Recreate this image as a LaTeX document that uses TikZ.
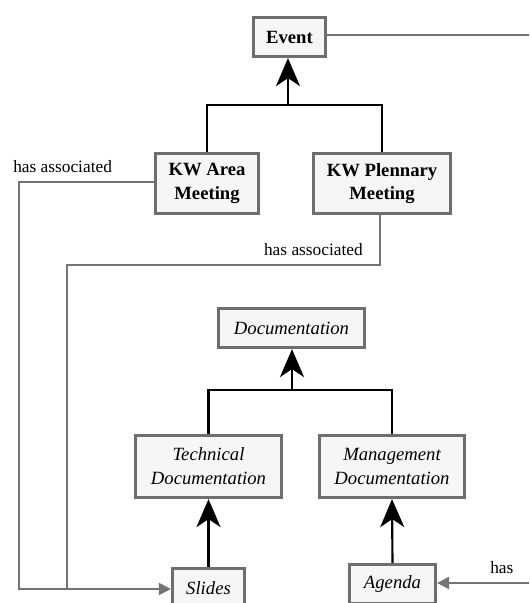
\documentclass[tikz,border=0pt]{standalone}
\usepackage{fontspec}
\setmainfont{Liberation Serif}
\usetikzlibrary{arrows.meta}
\definecolor{boxline}{HTML}{6E6E6E}
\definecolor{boxfill}{HTML}{F6F6F6}
\definecolor{grayline}{HTML}{747474}
\tikzset{
  cls/.style={draw=boxline, fill=boxfill, line width=2.4pt, inner sep=0pt,
    align=center, font=\fontsize{14pt}{17.5pt}\selectfont},
  bcls/.style={cls, font=\fontsize{14pt}{17.5pt}\selectfont\bfseries},
  icls/.style={cls, font=\fontsize{14pt}{18pt}\selectfont\itshape},
  inh/.style={draw=black, line width=1.6pt},
  inharrow/.style={inh, -{Stealth[length=21pt,width=18pt,inset=6pt]}},
  assoc/.style={draw=grayline, line width=1.6pt},
  assocarrow/.style={assoc, -{Triangle[length=9pt,width=9pt]}},
  lbl/.style={inner sep=0pt, font=\fontsize{13pt}{15pt}\selectfont}
}
\begin{document}
\begin{tikzpicture}[x=0.75pt,y=-0.75pt]
\useasboundingbox (0,0) rectangle (529,603);
% classes
\node[bcls, minimum width=72*0.75pt, minimum height=39*0.75pt] (event) at (289.5,37) {Event};
\node[bcls, minimum width=103*0.75pt, minimum height=60*0.75pt] (kwa) at (207,183.5) {KW Area\\Meeting};
\node[bcls, minimum width=137*0.75pt, minimum height=60*0.75pt] (kwp) at (382,183.5) {KW Plennary\\Meeting};
\node[icls, minimum width=146*0.75pt, minimum height=39*0.75pt] (doc) at (291.5,328) {Documentation};
\node[icls, minimum width=146*0.75pt, minimum height=62*0.75pt] (tech) at (208.5,466.5) {Technical\\Documentation};
\node[icls, minimum width=145*0.75pt, minimum height=62*0.75pt] (mgmt) at (392,466.5) {Management\\Documentation};
\node[icls, minimum width=72*0.75pt, minimum height=39*0.75pt] (slides) at (208.5,588) {Slides};
\node[icls, minimum width=86*0.75pt, minimum height=39*0.75pt] (agenda) at (392.5,584) {Agenda};
% inheritance: meetings -> event
\coordinate (bar1) at (288,105);
\draw[inh] (kwa.north) |- (bar1) -| (kwp.north);
\draw[inharrow] (bar1) -- (bar1 |- event.south);
% inheritance: documentation
\coordinate (bar2) at (292,390);
\draw[inh] (tech.north) |- (bar2) -| (mgmt.north);
\draw[inharrow] (bar2) -- (bar2 |- doc.south);
\draw[inharrow] (slides.north) -- (tech.south);
\draw[inharrow] (agenda.north) -- (mgmt.south);
% associations
\coordinate (e1) at (529,35);
\draw[assoc] (event.east |- e1) -- (e1);
\coordinate (l1) at (19,182);
\coordinate (l2) at (67,265);
\coordinate (j) at (19,589);
\draw[assocarrow] (kwa.west |- l1) -- (l1) -- (j) -- (j -| slides.west);
\draw[assoc] (kwp.south -| 380,0) -- (380,265) -- (l2) -- (67,589);
\coordinate (h1) at (529,583);
\draw[assocarrow] (h1) -- (h1 -| agenda.east);
% labels
\node[lbl, anchor=west] (t1) at (13,167) {has associated};
\node[lbl, anchor=east] (t2) at (363,250) {has associated};
\node[lbl, anchor=west] (t3) at (490,568) {has};
\end{tikzpicture}
\end{document}
